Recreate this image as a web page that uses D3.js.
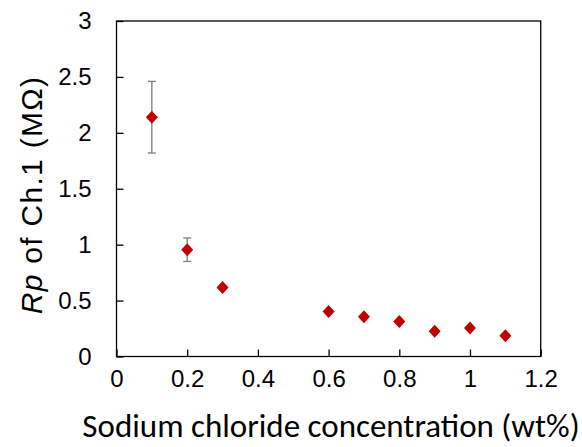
<!DOCTYPE html>
<html>
<head>
<meta charset="utf-8">
<script src="https://cdn.jsdelivr.net/npm/d3@7"></script>
<style>
  body { margin: 0; background: #fff; }
  svg { display: block; }
</style>
</head>
<body>
<div id="chart"></div>
<script>
// data
const concentration = [0.1, 0.2, 0.3, 0.6, 0.7, 0.8, 0.9, 1.0, 1.1];
const rpValues = [2.14, 0.955, 0.618, 0.403, 0.355, 0.314, 0.225, 0.254, 0.186];
const rpErrors = [0.32, 0.105, 0, 0, 0, 0, 0, 0, 0];
const xTicks = [0, 0.2, 0.4, 0.6, 0.8, 1, 1.2];
const yTicks = [0, 0.5, 1, 1.5, 2, 2.5, 3];

const width = 582, height = 447;
const margin = { left: 116.5, right: 41.3, top: 21, bottom: 90.5 };

const svg = d3.select('#chart').append('svg')
  .attr('width', width)
  .attr('height', height);

const x = d3.scaleLinear().domain([0, 1.2]).range([margin.left, width - margin.right]);
const y = d3.scaleLinear().domain([0, 3]).range([height - margin.bottom, margin.top]);

const tickFont = 'Liberation Sans, Arial, sans-serif';

// frame
svg.append('rect')
  .attr('x', x(0)).attr('y', y(3))
  .attr('width', x(1.2) - x(0)).attr('height', y(0) - y(3))
  .attr('fill', 'none').attr('stroke', '#000').attr('stroke-width', 1.3);

// x axis (ticks point inward)
const xAxis = svg.append('g')
  .attr('transform', `translate(0,${y(0)})`)
  .call(d3.axisBottom(x).tickValues(xTicks).tickSize(-7).tickPadding(13).tickFormat(d3.format('')));
xAxis.select('.domain').remove();
xAxis.selectAll('line').attr('stroke', '#000').attr('stroke-width', 1.3);
xAxis.selectAll('text')
  .attr('font-family', tickFont).attr('font-size', 24).attr('fill', '#000');

const yAxis = svg.append('g')
  .attr('transform', `translate(${x(0)},0)`)
  .call(d3.axisLeft(y).tickValues(yTicks).tickSize(-7).tickPadding(25).tickFormat(d3.format('')));
yAxis.select('.domain').remove();
yAxis.selectAll('line').attr('stroke', '#000').attr('stroke-width', 1.3);
yAxis.selectAll('text')
  .attr('font-family', tickFont).attr('font-size', 24).attr('fill', '#000');

const pts = concentration.map((c, i) => ({ c, v: rpValues[i], e: rpErrors[i] }));

// error bars
const eb = svg.append('g').selectAll('g').data(pts.filter(d => d.e > 0)).join('g')
  .attr('stroke', '#7f7f7f').attr('stroke-width', 1.3);
eb.append('line')
  .attr('x1', d => x(d.c)).attr('x2', d => x(d.c))
  .attr('y1', d => y(d.v + d.e)).attr('y2', d => y(d.v - d.e));
eb.append('line')
  .attr('x1', d => x(d.c) - 4).attr('x2', d => x(d.c) + 4)
  .attr('y1', d => y(d.v + d.e)).attr('y2', d => y(d.v + d.e));
eb.append('line')
  .attr('x1', d => x(d.c) - 4).attr('x2', d => x(d.c) + 4)
  .attr('y1', d => y(d.v - d.e)).attr('y2', d => y(d.v - d.e));

// diamond markers
svg.append('g').selectAll('path').data(pts).join('path')
  .attr('transform', d => `translate(${x(d.c)},${y(d.v)})`)
  .attr('d', 'M0,-6.5L6,0L0,6.5L-6,0Z')
  .attr('fill', '#c00000');

// axis titles
svg.append('text')
  .attr('x', 331).attr('y', 437)
  .attr('text-anchor', 'middle')
  .attr('font-family', 'Carlito, Calibri, "Open Sans", sans-serif')
  .attr('font-size', 33)
  .attr('fill', '#000')
  .text('Sodium chloride concentration (wt%)');

const yt = svg.append('text')
  .attr('transform', 'translate(42,195) rotate(-90)')
  .attr('text-anchor', 'middle')
  .attr('font-family', tickFont)
  .attr('font-size', 30)
  .attr('letter-spacing', 1.3)
  .attr('fill', '#000');
yt.append('tspan').attr('font-style', 'italic').text('Rp');
yt.append('tspan').text(' of Ch.1 (MΩ)');
</script>
</body>
</html>
